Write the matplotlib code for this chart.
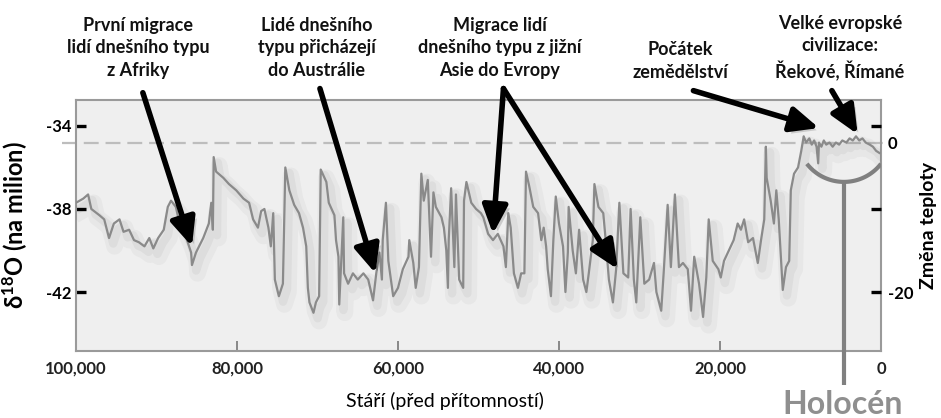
import numpy as np
import matplotlib.pyplot as plt
import matplotlib.patheffects as pe

plt.rcParams['font.family'] = ['Lato', 'DejaVu Sans']
plt.rcParams['mathtext.default'] = 'regular'

# stari (roky pred pritomnosti) a delta 18O (na milion)
roky = [100000, 99100, 98500, 98100, 97100, 96500, 95900, 95300, 94600, 94100,
        93400, 92800, 92200, 91500, 90900, 90400, 89800, 89100, 88600, 88200,
        87600, 87200, 86300, 85700, 85600, 85100, 84200, 83500, 83200, 83000,
        82900, 82600, 81700, 81000, 80100, 79200, 78500, 78000, 77400, 77000,
        76600, 76100, 75800, 75500, 75300, 74800, 74300, 74000, 73500, 72900,
        72300, 71800, 71400, 71200, 71000, 70500, 70200, 69800, 69600, 68900,
        68600, 67900, 67700, 67400, 67300, 66800, 66700, 66200, 65600, 65000,
        64300, 63700, 63100, 62700, 62300, 62000, 61900, 61500, 61200, 60600,
        60000, 59400, 58700, 58600, 58100, 57800, 57400, 57100, 56800, 56300,
        56100, 55900, 55600, 55300, 54600, 54300, 54000, 53800, 53700, 53400,
        53000, 52800, 52400, 51900, 51800, 51500, 50900, 50300, 49700, 49400,
        48800, 48200, 47600, 46900, 46600, 46300, 46000, 45600, 45100, 44700,
        44300, 44100, 43700, 43200, 42600, 42200, 41900, 41600, 41400, 41000,
        40700, 40400, 40000, 39500, 39200, 38900, 38800, 38300, 37900, 37500,
        37000, 36600, 36300, 35800, 35600, 35100, 34500, 34200, 33800, 33300,
        32900, 32500, 32000, 31400, 31100, 30700, 30400, 29900, 29400, 28800,
        28200, 27900, 27300, 27000, 26500, 26100, 25600, 25100, 24600, 24000,
        23600, 23200, 22600, 22100, 21700, 21400, 20900, 20200, 19900, 19500,
        18900, 18300, 17800, 17400, 17000, 16500, 15900, 15300, 14900, 14500,
        14300, 14200, 13700, 13300, 13000, 12700, 12400, 12200, 11800, 11400,
        11200, 10800, 10300, 9900, 9600, 9300, 8900, 8600, 8300, 8000,
        7800, 7700, 7400, 7100, 6800, 6400, 6000, 5600, 5200, 4800,
        4300, 3900, 3500, 3100, 2700, 2300, 1900, 1400, 1000, 600, 200]
d18o = [-37.7, -37.5, -37.3, -38.0, -38.3, -38.5, -39.4, -38.7, -38.5, -39.1,
        -39.0, -39.5, -39.6, -39.8, -39.4, -39.9, -39.4, -39.0, -37.9, -37.6,
        -37.9, -38.6, -39.4, -40.1, -40.7, -40.1, -39.4, -38.7, -37.7, -39.0,
        -35.5, -36.2, -36.5, -36.8, -37.1, -37.5, -37.7, -38.5, -38.9, -38.1,
        -38.0, -38.9, -39.8, -38.2, -41.4, -42.2, -41.6, -36.0, -37.1, -37.8,
        -38.2, -38.9, -39.8, -41.8, -42.5, -43.0, -42.5, -42.2, -36.1, -36.7,
        -37.7, -38.3, -39.5, -40.3, -42.6, -38.4, -41.1, -41.6, -41.1, -41.4,
        -41.1, -41.4, -42.4, -41.1, -40.1, -41.4, -39.5, -37.7, -40.5, -42.2,
        -41.8, -40.9, -40.3, -39.5, -40.6, -41.8, -40.8, -36.3, -37.6, -36.6,
        -38.4, -40.3, -37.2, -37.9, -38.4, -38.9, -40.0, -41.8, -39.5, -37.0,
        -40.8, -37.3, -41.4, -41.8, -37.6, -36.7, -37.7, -38.0, -38.2, -38.4,
        -39.2, -39.5, -39.2, -39.8, -40.8, -38.2, -38.9, -41.1, -41.8, -41.1,
        -41.1, -36.2, -36.9, -37.9, -38.2, -39.5, -38.9, -39.8, -40.9, -42.2,
        -39.5, -37.4, -38.7, -39.8, -42.0, -40.1, -37.9, -40.0, -41.1, -39.0,
        -41.4, -42.0, -41.1, -39.5, -36.8, -37.9, -38.2, -39.5, -41.4, -42.5,
        -40.9, -37.7, -41.1, -41.3, -38.0, -41.4, -42.5, -38.4, -41.6, -41.4,
        -40.6, -42.0, -42.9, -41.1, -37.8, -40.8, -37.3, -40.8, -40.6, -40.9,
        -42.9, -40.3, -41.6, -43.2, -41.3, -38.5, -40.5, -40.9, -41.3, -40.5,
        -40.0, -39.5, -38.7, -39.0, -38.5, -39.6, -39.4, -40.6, -39.5, -38.5,
        -35.0, -36.5, -37.6, -38.7, -37.1, -38.5, -40.5, -41.9, -40.8, -40.5,
        -37.1, -36.3, -36.0, -35.2, -34.5, -34.8, -34.6, -34.9, -34.7, -35.0,
        -35.8, -34.8, -35.0, -34.7, -34.9, -34.8, -35.0, -34.8, -34.9, -34.7,
        -34.8, -34.6, -34.7, -34.5, -34.7, -34.6, -34.8, -34.9, -35.0, -35.2, -35.3]

nula_teploty = -34.8          # uroven dnesni teploty (carkovana cara)
yticks_vlevo = [-34, -38, -42]
xticks = [100000, 80000, 60000, 40000, 20000, 0]
xlabels = ['100,000', '80,000', '60,000', '40,000', '20,000', '0']

# sipky: (start, cil) v datovych souradnicich
sipky = [((91700, -32.4), (85600, -39.8)),
         ((69700, -32.2), (62800, -41.1)),
         ((46900, -32.2), (48200, -39.2)),
         ((46900, -32.2), (32700, -40.9)),
         ((23300, -32.3), (7700, -34.1)),
         ((6100, -32.3), (2900, -34.4))]

popisky = ['První migrace\nlidí dnešního typu\nz Afriky',
           'Lidé dnešního\ntypu přicházejí\ndo Austrálie',
           'Migrace lidí\ndnešního typu z jižní\nAsie do Evropy',
           'Počátek\nzemědělství',
           'Velké evropské\ncivilizace:\nŘekové, Římané']
popisky_pos = [(138, 48), (317, 48), (500, 48), (680, 61), (840, 48)]

fig = plt.figure(figsize=(9.41, 4.18), dpi=100)
ax = fig.add_axes([0.0808, 0.1603, 0.8554, 0.6005])
ax.set_facecolor('#efefef')
ax.set_xlim(100000, 0)
ax.set_ylim(-44.84, -32.75)

ax.plot(roky, d18o, color='#8a8a8a', lw=1.6, zorder=3,
        path_effects=[pe.SimpleLineShadow(offset=(4, -6), shadow_color='k', alpha=0.03, linewidth=12),
                      pe.SimpleLineShadow(offset=(3, -4), shadow_color='k', alpha=0.04, linewidth=6),
                      pe.Normal()])

ax.plot([-0.0174, 1.011], [nula_teploty, nula_teploty], transform=ax.get_yaxis_transform(),
        color='#bdbdbd', lw=1.6, dashes=(6.7, 3.1), clip_on=False, zorder=2)

for sp in ax.spines.values():
    sp.set_color('#9a9a9a')
    sp.set_linewidth(1.5)

ax.set_yticks(yticks_vlevo)
ax.set_yticklabels([str(v) for v in yticks_vlevo])
ax.tick_params(axis='y', direction='in', length=7.5, width=2.4, color='k', pad=3,
               labelsize=12)
ax.set_xticks(xticks)
ax.set_xticklabels(xlabels)
ax.tick_params(axis='x', direction='in', length=7, width=1.2, color='#777777', pad=7,
               labelsize=12, labelcolor='#222222')
for t in ax.get_xticklabels() + ax.get_yticklabels():
    t.set_fontweight('bold')

ax.set_ylabel(r'δ$^{18}$O (na milion)', fontsize=17, fontweight='bold')
ax.yaxis.set_label_coords(-0.057, 0.5)
ax.set_xlabel('Stáří (před přítomností)', fontsize=14)
ax.xaxis.set_label_coords(0.458, -0.165)

ax2 = ax.twinx()
ax2.set_ylim(ax.get_ylim())
ax2.yaxis.remove_overlapping_locs = False
ax2.set_yticks(yticks_vlevo)
ax2.set_yticklabels([])
ax2.tick_params(axis='y', which='major', direction='in', length=7.5, width=2.4, color='k')
ax2.set_yticks([nula_teploty, -42], minor=True)
ax2.set_yticklabels(['0', '-20'], minor=True, fontsize=12, fontweight='bold')
ax2.tick_params(axis='y', which='minor', length=0, pad=5)
ax2.set_ylabel('Změna teploty', fontsize=14, fontweight='bold', rotation=90)
ax2.yaxis.set_label_coords(1.049, 0.5)
for sp in ax2.spines.values():
    sp.set_visible(False)

# sipky
for start, cil in sipky:
    a = ax.annotate('', xy=cil, xytext=start, annotation_clip=False,
                    arrowprops=dict(arrowstyle='-|>,head_length=0.85,head_width=0.38',
                                    color='k', lw=4, shrinkA=0, shrinkB=0, mutation_scale=20))
    a.arrow_patch.set_path_effects([pe.SimplePatchShadow(offset=(3, -3), alpha=0.15), pe.Normal()])
    a.set_zorder(5)

for txt, (px, py) in zip(popisky, popisky_pos):
    fig.text(px / 941, 1 - py / 418, txt, ha='center', va='center', fontsize=13,
             fontweight='bold', linespacing=1.4, color='#111111')

# holocen: oblouk a svisla cara
holocen_x = 4600
t = np.deg2rad(np.linspace(218, 322, 60))
ax.plot(holocen_x + 5840 * np.cos(t), -34.43 + 2.265 * np.sin(t), color='#808080', lw=3,
        zorder=4, solid_capstyle='butt')
ax.plot([holocen_x, holocen_x], [-36.7, -46.5], color='#808080', lw=3, clip_on=False,
        solid_capstyle='butt', zorder=4)
fig.text(843 / 941, 1 - 404 / 418, 'Holocén', ha='center', va='center', fontsize=23,
         color='#8f8f8f', fontweight='bold')

plt.savefig('out.png', dpi=100)
